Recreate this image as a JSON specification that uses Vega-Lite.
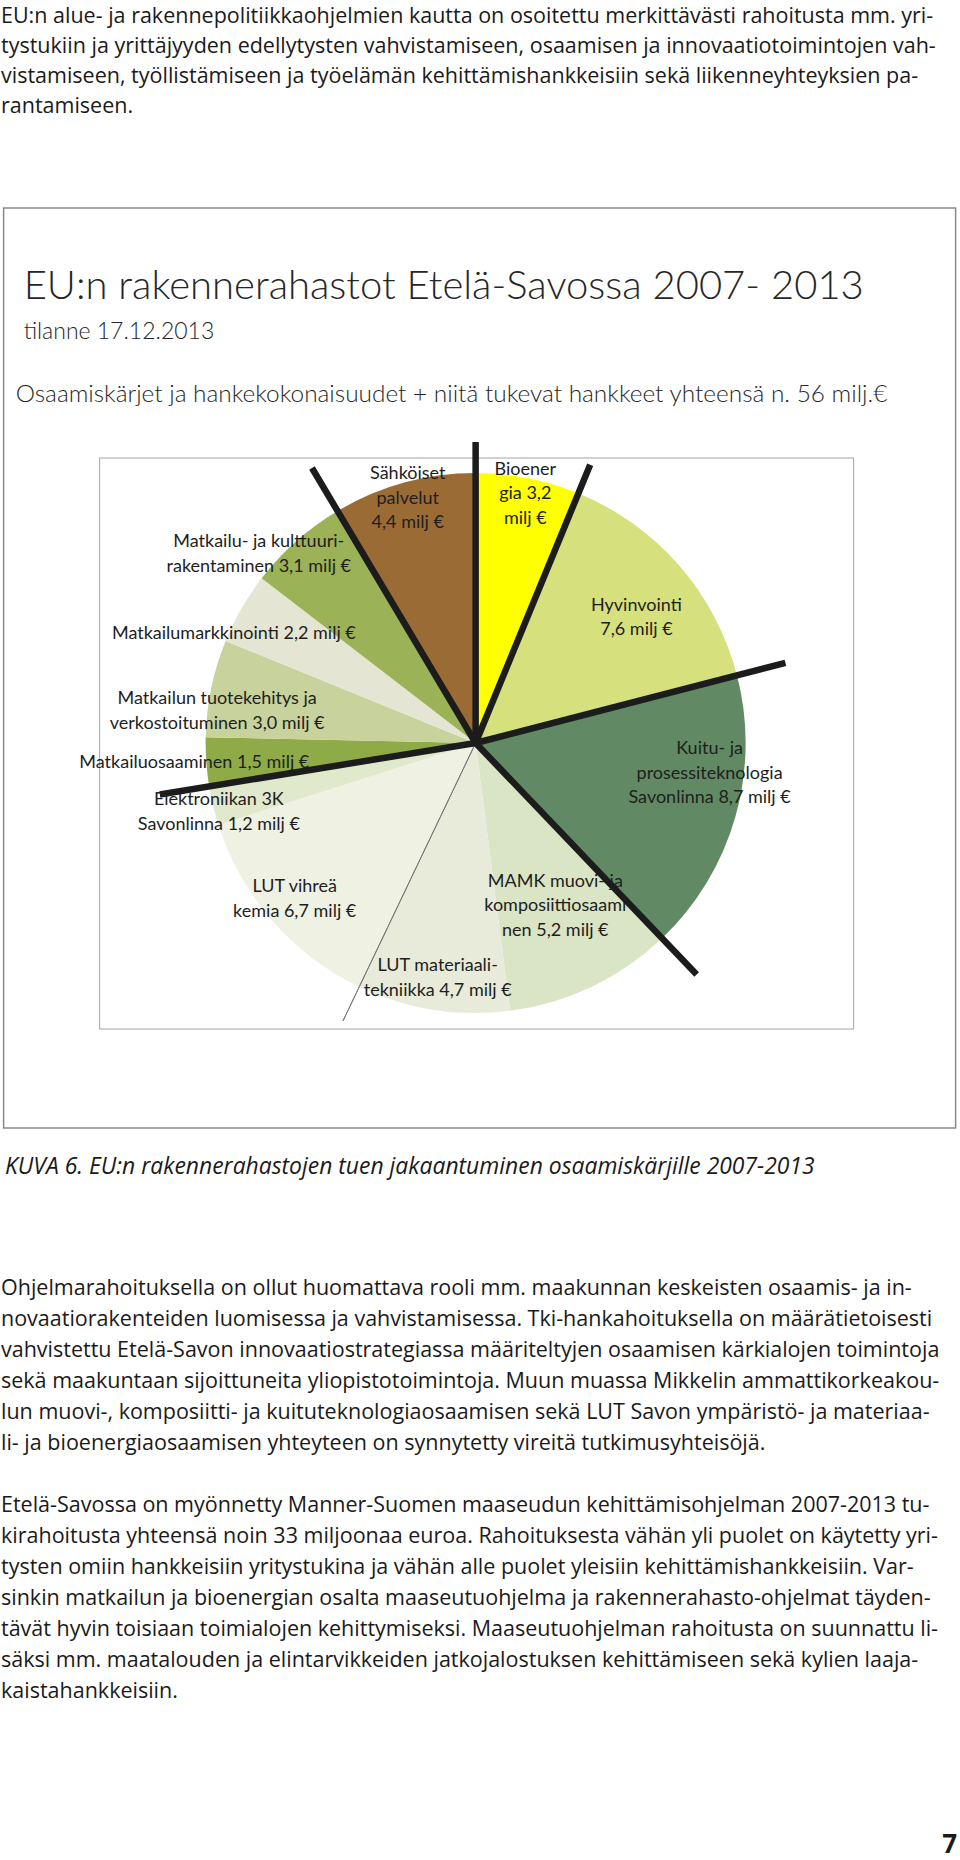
{
  "$schema": "https://vega.github.io/schema/vega-lite/v6.json",
  "padding": 0,
  "spacing": 0,
  "center": true,
  "background": "white",
  "config": {"view": {"stroke": null}, "font": "Lato"},
  "datasets": {
    "intro": [
      {"line": 1, "t": "EU:n alue- ja rakennepolitiikkaohjelmien kautta on osoitettu merkittävästi rahoitusta mm. yri-"},
      {"line": 2, "t": "tystukiin ja yrittäjyyden edellytysten vahvistamiseen, osaamisen ja innovaatiotoimintojen vah-"},
      {"line": 3, "t": "vistamiseen, työllistämiseen ja työelämän kehittämishankkeisiin sekä liikenneyhteyksien pa-"},
      {"line": 4, "t": "rantamiseen."}
    ],
    "slices": [
      {"order": 1, "cat": "bio", "value": 3.2, "label": "Bioener\ngia 3,2\nmilj €"},
      {"order": 2, "cat": "hyv", "value": 7.6, "label": "Hyvinvointi\n7,6 milj €"},
      {"order": 3, "cat": "kuitu", "value": 8.7, "label": "Kuitu- ja\nprosessiteknologia\nSavonlinna 8,7 milj €"},
      {"order": 4, "cat": "mamk", "value": 5.2, "label": "MAMK muovi- ja\nkomposiittiosaami\nnen 5,2 milj €"},
      {"order": 5, "cat": "lutmat", "value": 4.7, "label": "LUT materiaali-\ntekniikka 4,7 milj €"},
      {"order": 6, "cat": "lutvk", "value": 6.7, "label": "LUT vihreä\nkemia 6,7 milj €"},
      {"order": 7, "cat": "elek", "value": 1.2, "label": "Elektroniikan 3K\nSavonlinna 1,2 milj €"},
      {"order": 8, "cat": "mosa", "value": 1.5, "label": "Matkailuosaaminen 1,5 milj €"},
      {"order": 9, "cat": "mtuote", "value": 3.0, "label": "Matkailun tuotekehitys ja\nverkostoituminen 3,0 milj €"},
      {"order": 10, "cat": "mmark", "value": 2.2, "label": "Matkailumarkkinointi 2,2 milj €"},
      {"order": 11, "cat": "mkult", "value": 3.1, "label": "Matkailu- ja kulttuuri-\nrakentaminen 3,1 milj €"},
      {"order": 12, "cat": "sahko", "value": 4.4, "label": "Sähköiset\npalvelut\n4,4 milj €"}
    ],
    "dividersShort": [{"cum": 0}, {"cum": 3.2}],
    "dividersLong": [{"cum": 10.8}, {"cum": 19.5}, {"cum": 37.3}, {"cum": 47.1}],
    "thin": [{"cum": 29.4}],
    "titles": [{"t": "EU:n rakennerahastot Etelä-Savossa 2007- 2013"}],
    "sub1": [{"t": "tilanne 17.12.2013"}],
    "sub2": [{"t": "Osaamiskärjet ja hankekokonaisuudet + niitä tukevat hankkeet yhteensä n. 56 milj.€"}],
    "frame": [{"f": 1}],
    "caption": [{"t": "KUVA 6.  EU:n rakennerahastojen tuen jakaantuminen osaamiskärjille 2007-2013"}],
    "body": [
      {"line": 1, "t": "Ohjelmarahoituksella on ollut huomattava rooli mm. maakunnan keskeisten osaamis- ja in-"},
      {"line": 2, "t": "novaatiorakenteiden luomisessa ja vahvistamisessa. Tki-hankahoituksella on määrätietoisesti"},
      {"line": 3, "t": "vahvistettu Etelä-Savon innovaatiostrategiassa määriteltyjen osaamisen kärkialojen toimintoja"},
      {"line": 4, "t": "sekä maakuntaan sijoittuneita yliopistotoimintoja. Muun muassa Mikkelin ammattikorkeakou-"},
      {"line": 5, "t": "lun muovi-, komposiitti- ja kuituteknologiaosaamisen sekä LUT Savon ympäristö- ja materiaa-"},
      {"line": 6, "t": "li- ja bioenergiaosaamisen yhteyteen on synnytetty vireitä tutkimusyhteisöjä."},
      {"line": 8, "t": "Etelä-Savossa on myönnetty Manner-Suomen maaseudun kehittämisohjelman 2007-2013 tu-"},
      {"line": 9, "t": "kirahoitusta  yhteensä noin 33 miljoonaa euroa. Rahoituksesta vähän yli puolet on käytetty yri-"},
      {"line": 10, "t": "tysten omiin hankkeisiin yritystukina ja vähän alle puolet yleisiin kehittämishankkeisiin. Var-"},
      {"line": 11, "t": "sinkin matkailun ja bioenergian osalta maaseutuohjelma ja rakennerahasto-ohjelmat täyden-"},
      {"line": 12, "t": "tävät hyvin toisiaan toimialojen kehittymiseksi. Maaseutuohjelman rahoitusta on suunnattu li-"},
      {"line": 13, "t": "säksi mm. maatalouden ja elintarvikkeiden jatkojalostuksen kehittämiseen sekä kylien laaja-"},
      {"line": 14, "t": "kaistahankkeisiin."}
    ],
    "page": [{"t": "7"}]
  },
  "vconcat": [
    {
      "width": 960,
      "height": 207,
      "data": {"name": "intro"},
      "mark": {"type": "text", "align": "left", "baseline": "alphabetic", "fontSize": 21.5, "font": "Open Sans", "color": "#1a1a1a"},
      "encoding": {
        "x": {"value": 1},
        "y": {"field": "line", "type": "quantitative", "axis": null, "scale": {"domain": [0.2333, 7.1333], "reverse": true, "nice": false, "zero": false}},
        "text": {"field": "t"}
      }
    },
    {
      "width": 952,
      "height": 920,
      "view": {"stroke": "#8a8a8a", "strokeWidth": 1.5},
      "layer": [
        {
          "data": {"name": "frame"},
          "mark": {"type": "rect", "x": 96, "x2": 850, "y": 250, "y2": 821, "fill": null, "stroke": "#a3a3a3", "strokeWidth": 1},
          "encoding": {}
        },
        {
          "data": {"name": "slices"},
          "mark": {"type": "arc", "outerRadius": 270, "x": 472, "y": 535},
          "encoding": {
            "theta": {"field": "value", "type": "quantitative", "stack": true},
            "order": {"field": "order", "type": "quantitative"},
            "color": {
              "field": "cat", "type": "nominal", "legend": null,
              "scale": {
                "domain": ["bio", "hyv", "kuitu", "mamk", "lutmat", "lutvk", "elek", "mosa", "mtuote", "mmark", "mkult", "sahko"],
                "range": ["#ffff00", "#d6e07d", "#618a64", "#d9e5c4", "#e8ebd9", "#eff1e3", "#e0e9cc", "#8eab48", "#c8d29c", "#e4e6d3", "#9cb257", "#9b6b36"]
              }
            }
          }
        },
        {
          "data": {"name": "thin"},
          "mark": {"type": "arc", "outerRadius": 308, "x": 472, "y": 535, "fillOpacity": 0, "stroke": "#7a7a7a", "strokeWidth": 1},
          "encoding": {
            "theta": {"field": "cum", "type": "quantitative", "stack": null},
            "theta2": {"field": "cum"}
          }
        },
        {
          "data": {"name": "dividersShort"},
          "mark": {"type": "arc", "outerRadius": 301, "x": 472, "y": 535, "fillOpacity": 0, "stroke": "#1c1c1c", "strokeWidth": 6.5},
          "encoding": {
            "theta": {"field": "cum", "type": "quantitative", "stack": null},
            "theta2": {"field": "cum"}
          }
        },
        {
          "data": {"name": "dividersLong"},
          "mark": {"type": "arc", "outerRadius": 320, "x": 472, "y": 535, "fillOpacity": 0, "stroke": "#1c1c1c", "strokeWidth": 6.5},
          "encoding": {
            "theta": {"field": "cum", "type": "quantitative", "stack": null},
            "theta2": {"field": "cum"}
          }
        },
        {
          "data": {"name": "slices"},
          "mark": {"type": "text", "radius": 256, "x": 472, "y": 535, "dy": -22, "fontSize": 18, "font": "Lato", "lineBreak": "\n", "lineHeight": 24.5, "align": "center", "baseline": "middle", "color": "#1e1e1e"},
          "encoding": {
            "theta": {"field": "value", "type": "quantitative", "stack": true},
            "order": {"field": "order", "type": "quantitative"},
            "detail": {"field": "cat", "type": "nominal"},
            "text": {"field": "label"},
            "opacity": {"condition": {"test": "indexof(['bio','sahko'], datum.cat) >= 0", "value": 1}, "value": 0}
          }
        },
        {
          "data": {"name": "slices"},
          "mark": {"type": "text", "radius": 185, "x": 472, "y": 535, "dy": -28, "fontSize": 18, "font": "Lato", "lineBreak": "\n", "lineHeight": 24.5, "align": "center", "baseline": "middle", "color": "#1e1e1e"},
          "encoding": {
            "theta": {"field": "value", "type": "quantitative", "stack": true},
            "order": {"field": "order", "type": "quantitative"},
            "detail": {"field": "cat", "type": "nominal"},
            "text": {"field": "label"},
            "opacity": {"condition": {"test": "datum.cat === 'mamk'", "value": 1}, "value": 0}
          }
        },
        {
          "data": {"name": "slices"},
          "mark": {"type": "text", "radius": 236, "x": 472, "y": 535, "dx": 7, "dy": -58.5, "fontSize": 18, "font": "Lato", "lineBreak": "\n", "lineHeight": 24.5, "align": "center", "baseline": "middle", "color": "#1e1e1e"},
          "encoding": {
            "theta": {"field": "value", "type": "quantitative", "stack": true},
            "order": {"field": "order", "type": "quantitative"},
            "detail": {"field": "cat", "type": "nominal"},
            "text": {"field": "label"},
            "opacity": {"condition": {"test": "datum.cat === 'kuitu'", "value": 1}, "value": 0}
          }
        },
        {
          "data": {"name": "slices"},
          "mark": {"type": "text", "radius": 200, "x": 472, "y": 535, "dx": 10, "dy": -6, "fontSize": 18, "font": "Lato", "lineBreak": "\n", "lineHeight": 24.5, "align": "center", "baseline": "middle", "color": "#1e1e1e"},
          "encoding": {
            "theta": {"field": "value", "type": "quantitative", "stack": true},
            "order": {"field": "order", "type": "quantitative"},
            "detail": {"field": "cat", "type": "nominal"},
            "text": {"field": "label"},
            "opacity": {"condition": {"test": "datum.cat === 'hyv'", "value": 1}, "value": 0}
          }
        },
        {
          "data": {"name": "slices"},
          "mark": {"type": "text", "radius": 240, "x": 472, "y": 535, "dy": -13.5, "fontSize": 18, "font": "Lato", "lineBreak": "\n", "lineHeight": 24.5, "align": "center", "baseline": "middle", "color": "#1e1e1e"},
          "encoding": {
            "theta": {"field": "value", "type": "quantitative", "stack": true},
            "order": {"field": "order", "type": "quantitative"},
            "detail": {"field": "cat", "type": "nominal"},
            "text": {"field": "label"},
            "opacity": {"condition": {"test": "indexof(['lutmat','lutvk'], datum.cat) >= 0", "value": 1}, "value": 0}
          }
        },
        {
          "data": {"name": "slices"},
          "mark": {"type": "text", "radius": 264, "x": 472, "y": 535, "dy": -4, "fontSize": 18, "font": "Lato", "lineBreak": "\n", "lineHeight": 24.5, "align": "center", "baseline": "middle", "color": "#1e1e1e"},
          "encoding": {
            "theta": {"field": "value", "type": "quantitative", "stack": true},
            "order": {"field": "order", "type": "quantitative"},
            "detail": {"field": "cat", "type": "nominal"},
            "text": {"field": "label"},
            "opacity": {"condition": {"test": "datum.cat === 'elek'", "value": 1}, "value": 0}
          }
        },
        {
          "data": {"name": "slices"},
          "mark": {"type": "text", "radius": 264, "x": 472, "y": 535, "dy": 10, "fontSize": 18, "font": "Lato", "lineBreak": "\n", "lineHeight": 24.5, "align": "center", "baseline": "middle", "color": "#1e1e1e"},
          "encoding": {
            "theta": {"field": "value", "type": "quantitative", "stack": true},
            "order": {"field": "order", "type": "quantitative"},
            "detail": {"field": "cat", "type": "nominal"},
            "text": {"field": "label"},
            "opacity": {"condition": {"test": "datum.cat === 'mtuote'", "value": 1}, "value": 0}
          }
        },
        {
          "data": {"name": "slices"},
          "mark": {"type": "text", "radius": 282, "x": 472, "y": 535, "fontSize": 18, "font": "Lato", "lineBreak": "\n", "lineHeight": 24.5, "align": "center", "baseline": "middle", "color": "#1e1e1e"},
          "encoding": {
            "theta": {"field": "value", "type": "quantitative", "stack": true},
            "order": {"field": "order", "type": "quantitative"},
            "detail": {"field": "cat", "type": "nominal"},
            "text": {"field": "label"},
            "opacity": {"condition": {"test": "datum.cat === 'mosa'", "value": 1}, "value": 0}
          }
        },
        {
          "data": {"name": "slices"},
          "mark": {"type": "text", "radius": 265, "x": 472, "y": 535, "dx": -12, "dy": 23, "fontSize": 18, "font": "Lato", "lineBreak": "\n", "lineHeight": 24.5, "align": "center", "baseline": "middle", "color": "#1e1e1e"},
          "encoding": {
            "theta": {"field": "value", "type": "quantitative", "stack": true},
            "order": {"field": "order", "type": "quantitative"},
            "detail": {"field": "cat", "type": "nominal"},
            "text": {"field": "label"},
            "opacity": {"condition": {"test": "datum.cat === 'mmark'", "value": 1}, "value": 0}
          }
        },
        {
          "data": {"name": "slices"},
          "mark": {"type": "text", "radius": 286, "x": 472, "y": 535, "dx": -27, "dy": 13, "fontSize": 18, "font": "Lato", "lineBreak": "\n", "lineHeight": 24.5, "align": "center", "baseline": "middle", "color": "#1e1e1e"},
          "encoding": {
            "theta": {"field": "value", "type": "quantitative", "stack": true},
            "order": {"field": "order", "type": "quantitative"},
            "detail": {"field": "cat", "type": "nominal"},
            "text": {"field": "label"},
            "opacity": {"condition": {"test": "datum.cat === 'mkult'", "value": 1}, "value": 0}
          }
        },
        {
          "data": {"name": "titles"},
          "mark": {"type": "text", "x": 20, "y": 91, "align": "left", "baseline": "alphabetic", "fontSize": 40, "fontWeight": 300, "font": "Lato", "color": "#262626"},
          "encoding": {"text": {"field": "t"}}
        },
        {
          "data": {"name": "sub1"},
          "mark": {"type": "text", "x": 20, "y": 131, "align": "left", "baseline": "alphabetic", "fontSize": 23, "fontWeight": 300, "font": "Lato", "color": "#262626"},
          "encoding": {"text": {"field": "t"}}
        },
        {
          "data": {"name": "sub2"},
          "mark": {"type": "text", "x": 12, "y": 194, "align": "left", "baseline": "alphabetic", "fontSize": 24.4, "fontWeight": 300, "font": "Lato", "color": "#262626"},
          "encoding": {"text": {"field": "t"}}
        }
      ]
    },
    {
      "width": 960,
      "height": 90,
      "data": {"name": "caption"},
      "mark": {"type": "text", "align": "left", "baseline": "alphabetic", "fontSize": 22.9, "fontStyle": "italic", "font": "Open Sans", "color": "#1a1a1a"},
      "encoding": {"x": {"value": 5}, "text": {"field": "t"}}
    },
    {
      "width": 960,
      "height": 643,
      "layer": [
        {
          "data": {"name": "body"},
          "mark": {"type": "text", "align": "left", "baseline": "alphabetic", "fontSize": 21.5, "font": "Open Sans", "color": "#1a1a1a"},
          "encoding": {
            "x": {"value": 1},
            "y": {"field": "line", "type": "quantitative", "axis": null, "scale": {"domain": [-1.4516, 19.29], "reverse": true, "nice": false, "zero": false}},
            "text": {"field": "t"}
          }
        },
        {
          "data": {"name": "page"},
          "mark": {"type": "text", "align": "right", "baseline": "alphabetic", "fontSize": 26, "fontWeight": "bold", "font": "Open Sans", "color": "#1a1a1a", "x": 957, "y": 634},
          "encoding": {"text": {"field": "t"}}
        }
      ]
    }
  ]
}
